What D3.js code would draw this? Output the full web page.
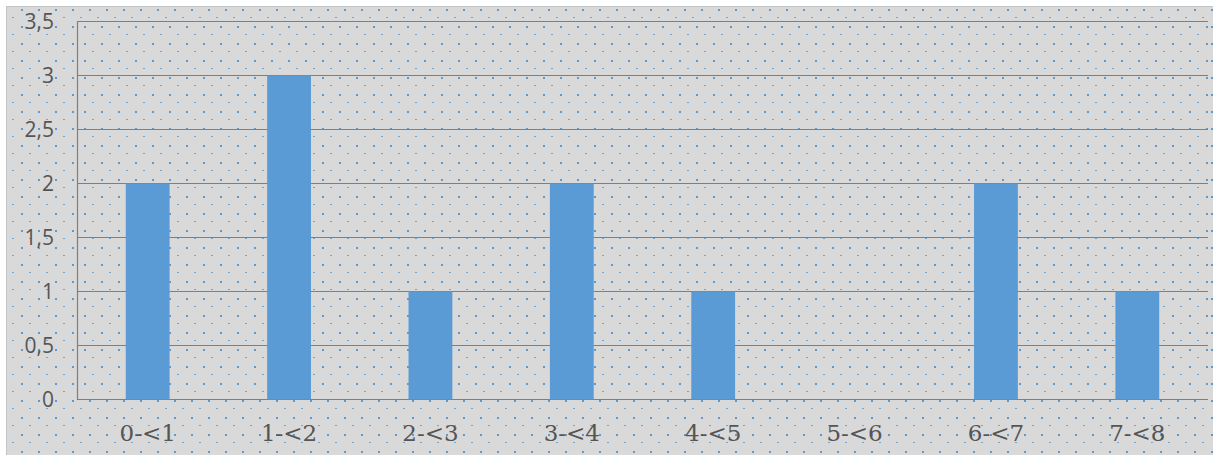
<!DOCTYPE html>
<html>
<head>
<meta charset="utf-8">
<script src="https://cdn.jsdelivr.net/npm/d3@7"></script>
<style>
  html, body { margin: 0; padding: 0; background: #ffffff; }
  svg { display: block; }
</style>
</head>
<body>
<script>
//// Data ////
const categories = ["0-<1", "1-<2", "2-<3", "3-<4", "4-<5", "5-<6", "6-<7", "7-<8"]
const counts = [2, 3, 1, 2, 1, 0, 2, 1]
const yTicks = [0, 0.5, 1, 1.5, 2, 2.5, 3, 3.5]

//// Layout ////
const WIDTH = 1213
const HEIGHT = 455
const PLOT = { left: 77, right: 1208, top: 21.5, bottom: 399.5 }

const BG_COLOR = "#d9d9d9"
const DOT_COLOR = "#5b9bd5"
const DASH_COLOR = "#6fa6d8"
const GRID_COLOR = "#7f7f7f"
const BAR_COLOR = "#5b9bd5"
const TEXT_COLOR = "#555555"

const svg = d3.select("body")
  .append("svg")
  .attr("width", WIDTH)
  .attr("height", HEIGHT)

// dotted fill pattern (dots + small dashes offset by half a step)
const defs = svg.append("defs")
function makePattern(id, ox, oy) {
  const p = defs.append("pattern")
    .attr("id", id)
    .attr("patternUnits", "userSpaceOnUse")
    .attr("x", ox)
    .attr("y", oy)
    .attr("width", 17)
    .attr("height", 17)
  p.append("rect").attr("width", 17).attr("height", 17).attr("fill", BG_COLOR)
  p.append("rect").attr("x", 0).attr("y", 0).attr("width", 2).attr("height", 2).attr("fill", DOT_COLOR)
  p.append("rect").attr("x", 8).attr("y", 8).attr("width", 2).attr("height", 1).attr("fill", DASH_COLOR)
}
makePattern("outerDots", 4, 9)
makePattern("innerDots", 16, 9)

// chart area
svg.append("rect")
  .attr("x", 6.5)
  .attr("y", 6.5)
  .attr("width", WIDTH)
  .attr("height", HEIGHT)
  .attr("fill", "url(#outerDots)")
  .attr("stroke", "#c4c4c4")
  .attr("stroke-width", 1)

// plot area
svg.append("rect")
  .attr("x", PLOT.left)
  .attr("y", PLOT.top)
  .attr("width", PLOT.right - PLOT.left)
  .attr("height", PLOT.bottom - PLOT.top)
  .attr("fill", "url(#innerDots)")

//// Scales ////
const x = d3.scaleBand()
  .domain(categories)
  .range([PLOT.left, PLOT.right])
  .paddingInner(0.69)
  .paddingOuter(0.345)

const y = d3.scaleLinear()
  .domain([0, 3.5])
  .range([PLOT.bottom, PLOT.top])

// gridlines
svg.append("g")
  .selectAll("line")
  .data(yTicks)
  .join("line")
  .attr("x1", PLOT.left)
  .attr("x2", PLOT.right)
  .attr("y1", d => y(d))
  .attr("y2", d => y(d))
  .attr("stroke", GRID_COLOR)
  .attr("stroke-width", 1.2)

// left axis line
svg.append("line")
  .attr("x1", PLOT.left + 0.5)
  .attr("x2", PLOT.left + 0.5)
  .attr("y1", PLOT.top)
  .attr("y2", PLOT.bottom)
  .attr("stroke", GRID_COLOR)
  .attr("stroke-width", 1.2)

// bars
svg.append("g")
  .selectAll("rect")
  .data(counts)
  .join("rect")
  .attr("x", (d, i) => x(categories[i]))
  .attr("y", d => y(d))
  .attr("width", x.bandwidth())
  .attr("height", d => y(0) - y(d))
  .attr("fill", BAR_COLOR)

// y axis labels
const yAxis = svg.append("g")
  .attr("transform", `translate(${PLOT.left},0)`)
  .call(d3.axisLeft(y)
    .tickValues(yTicks)
    .tickSize(0)
    .tickPadding(23)
    .tickFormat(d => String(d).replace(".", ",")))
yAxis.select(".domain").remove()
yAxis.selectAll("text")
  .attr("fill", TEXT_COLOR)
  .style("font-family", "'Open Sans', sans-serif")
  .style("font-size", "21px")

// x axis labels
const xAxis = svg.append("g")
  .attr("transform", `translate(0,${PLOT.bottom})`)
  .call(d3.axisBottom(x).tickSize(0).tickPadding(25))
xAxis.select(".domain").remove()
xAxis.selectAll("text")
  .attr("fill", TEXT_COLOR)
  .style("font-family", "'DejaVu Serif', serif")
  .style("font-size", "23px")
</script>
</body>
</html>
